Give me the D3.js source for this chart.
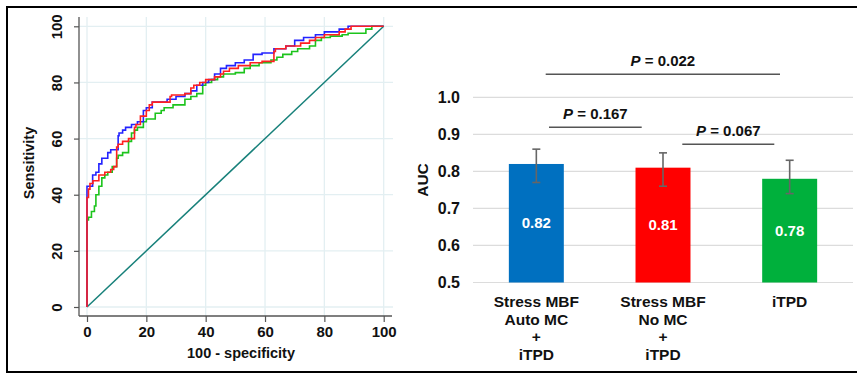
<!DOCTYPE html>
<html>
<head>
<meta charset="utf-8">
<script src="https://cdnjs.cloudflare.com/ajax/libs/d3/7.8.5/d3.min.js"></script>
<style>
html,body{margin:0;padding:0;background:#fff;}
svg{display:block;font-family:"Liberation Sans",Arial,sans-serif;font-weight:bold;}
</style>
</head>
<body>
<svg id="chart" width="857" height="375"></svg>
<script>
// ---------- ROC data (x = 100 - specificity, y = sensitivity) ----------
const rocBlue = [[0,0],[0,38],[0.3,43],[1.9,43],[1.9,44],[3,47],[4,48],[5,51],[7,53],[8,55],[9,56],[10.5,56],[10.8,61],[12,62],[13,63],[15,64],[17,65],[19,66],[20,70],[22,71],[24,73],[27,73],[30,74],[33,75],[35,76],[37,77],[39,79],[41,80],[43,81],[45,83],[47,85],[50,86],[53,87],[56,88],[59,90],[63,90.5],[67,92],[70,93],[73,95],[77,96],[80,97],[85,98],[88,99],[92,100],[100,100]];
const rocRed = [[0,0],[0,38],[0.5,39],[1,42],[2,44],[4,45],[6,47],[8,48],[9,49],[10,50],[10.5,57],[12,58],[14,59],[16,60],[16.5,64],[18,65],[20,68],[21,70],[22,72],[23,73],[28,73],[28.5,75],[33,75.5],[35,76],[36,78],[38,79],[40,80],[43,81],[45,82],[46,83],[48,84],[51,85],[55,86],[59,87],[63,87.5],[63.5,91],[67,92],[72,93],[75,94],[77,95],[80,96],[85,97],[87,98],[89,99],[91,100],[100,100]];
const rocGreen = [[0,0],[0,28],[0.5,31],[1.5,32],[2.5,34],[3,36],[4,40],[5,43],[6,46],[7,47],[8.5,48],[10,50],[10.5,53],[12,54],[14,55],[15,59],[16,62],[17,63],[19,64],[20,66],[23,67],[25,69],[26,70],[29,71],[33,72],[35,74],[37,75],[39,76],[40,79],[42,80],[44,81],[46,82],[50,83],[53,83.5],[55,85],[58,86],[62,87],[64,88],[66,89],[69,90],[71,91],[75,92],[77,93],[79,95],[82,96],[86,96.5],[88,97],[94,97.5],[96,99],[100,100]];
const rocTicks = [0,20,40,60,80,100];

// ---------- Bar data ----------
const barCategories = ["Stress MBF|Auto MC|+|iTPD","Stress MBF|No MC|+|iTPD","iTPD"];
const barValues = [0.82,0.81,0.78];
const barLow = [0.77,0.76,0.74];
const barHigh = [0.86,0.85,0.83];
const barColors = ["#0070c0","#ff0000","#00b03c"];
const aucTicks = [0.5,0.6,0.7,0.8,0.9,1.0];
const pComparisons = [
  {from:0,to:2,label:"0.022",level:0},
  {from:0,to:1,label:"0.167",level:1},
  {from:1,to:2,label:"0.067",level:2}
];

const svg = d3.select("#chart");

// Outer frame
svg.append("line").attr("x1",7).attr("x2",857).attr("y1",7).attr("y2",7).attr("stroke","#000").attr("stroke-width",2);
svg.append("line").attr("x1",7).attr("x2",857).attr("y1",372).attr("y2",372).attr("stroke","#000").attr("stroke-width",2);
svg.append("line").attr("x1",7).attr("x2",7).attr("y1",6).attr("y2",373).attr("stroke","#000").attr("stroke-width",2);

// ---------- ROC panel ----------
const x = d3.scaleLinear().domain([0,100]).range([87,383.7]);
const y = d3.scaleLinear().domain([0,100]).range([307,26.3]);
const g1 = svg.append("g");

// grid
g1.selectAll(".vg").data(rocTicks).join("line")
  .attr("x1",d=>x(d)).attr("x2",d=>x(d)).attr("y1",17).attr("y2",316)
  .attr("stroke","#e3eff2").attr("stroke-width",1.3);
g1.selectAll(".hg").data(rocTicks).join("line")
  .attr("x1",79).attr("x2",393).attr("y1",d=>y(d)).attr("y2",d=>y(d))
  .attr("stroke","#e3eff2").attr("stroke-width",1.3);

// axes
const xAxis = d3.axisBottom(x).tickValues(rocTicks).tickSize(6).tickPadding(4);
const gx = g1.append("g").attr("transform","translate(0,316)").call(xAxis);
gx.select(".domain").attr("d","M79,0H392").attr("stroke","#555").attr("stroke-width",1.3);
gx.selectAll(".tick line").attr("stroke","#555").attr("stroke-width",1.2);
gx.selectAll(".tick text").attr("font-size",15).attr("font-weight","bold").attr("fill","#111")
  .attr("font-family","Liberation Sans, Arial, sans-serif");

const yAxis = d3.axisLeft(y).tickValues(rocTicks).tickSize(5).tickPadding(4);
const gy = g1.append("g").attr("transform","translate(79,0)").call(yAxis);
gy.select(".domain").attr("d","M0,17V316").attr("stroke","#555").attr("stroke-width",1.3);
gy.selectAll(".tick line").attr("stroke","#555").attr("stroke-width",1.2);
gy.selectAll(".tick text").attr("font-size",15).attr("font-weight","bold").attr("fill","#111")
  .attr("font-family","Liberation Sans, Arial, sans-serif")
  .attr("transform","rotate(-90)").attr("x",0).attr("y",-22).attr("dy","0.35em").attr("text-anchor","middle");

g1.append("text").attr("x",241).attr("y",358).attr("text-anchor","middle").attr("font-size",14.5).attr("fill","#111").text("100 - specificity");
g1.append("text").attr("transform","translate(34,163) rotate(-90)").attr("text-anchor","middle").attr("font-size",14.5).attr("fill","#111").text("Sensitivity");

// diagonal
g1.append("line").attr("x1",x(0)).attr("y1",y(0)).attr("x2",x(100)).attr("y2",y(100))
  .attr("stroke","#17807a").attr("stroke-width",1.5);

const stepLine = d3.line().x(d=>x(d[0])).y(d=>y(d[1])).curve(d3.curveStepBefore);
[[rocGreen,"#1cc41c"],[rocBlue,"#2323ff"],[rocRed,"#ff2020"]].forEach(([data,col])=>{
  g1.append("path").datum(data).attr("d",stepLine).attr("fill","none").attr("stroke",col).attr("stroke-width",1.6);
});

// ---------- Bar panel ----------
const xb = d3.scaleBand().domain(d3.range(barValues.length)).range([473,853]).paddingInner(0.566).paddingOuter(0.283);
const yb = d3.scaleLinear().domain([0.5,1.0]).range([282.5,97.3]);
const g2 = svg.append("g");

g2.selectAll(".bg").data(aucTicks).join("line")
  .attr("x1",473).attr("x2",853).attr("y1",d=>yb(d)).attr("y2",d=>yb(d))
  .attr("stroke","#dcdcdc").attr("stroke-width",1.2);
g2.selectAll(".bt").data(aucTicks).join("text")
  .attr("x",460).attr("y",d=>yb(d)).attr("dy","0.35em").attr("text-anchor","end")
  .attr("font-size",16).attr("fill","#111").text(d=>d.toFixed(1));
g2.append("text").attr("transform","translate(428,180) rotate(-90)").attr("text-anchor","middle")
  .attr("font-size",15.5).attr("fill","#111").text("AUC");

g2.selectAll(".bar").data(barValues).join("rect")
  .attr("x",(d,i)=>xb(i)).attr("width",xb.bandwidth())
  .attr("y",d=>yb(d)).attr("height",d=>yb(0.5)-yb(d))
  .attr("fill",(d,i)=>barColors[i]);

// error bars
barValues.forEach((v,i)=>{
  const cx = xb(i)+xb.bandwidth()/2;
  g2.append("line").attr("x1",cx).attr("x2",cx).attr("y1",yb(barLow[i])).attr("y2",yb(barHigh[i])).attr("stroke","#666").attr("stroke-width",1.6);
  [barLow[i],barHigh[i]].forEach(t=>{
    g2.append("line").attr("x1",cx-4).attr("x2",cx+4).attr("y1",yb(t)).attr("y2",yb(t)).attr("stroke","#666").attr("stroke-width",1.6);
  });
});

// value labels
g2.selectAll(".vl").data(barValues).join("text")
  .attr("x",(d,i)=>xb(i)+xb.bandwidth()/2).attr("y",d=>(yb(d)+yb(0.5))/2).attr("dy","0.35em")
  .attr("text-anchor","middle").attr("font-size",15).attr("fill","#fff").text(d=>d.toFixed(2));

// category labels
barCategories.forEach((c,i)=>{
  const t = g2.append("text").attr("x",xb(i)+xb.bandwidth()/2).attr("text-anchor","middle").attr("font-size",15.5).attr("fill","#111");
  c.split("|").forEach((ln,j)=>{
    t.append("tspan").attr("x",xb(i)+xb.bandwidth()/2).attr("y",307+j*17.6).text(ln);
  });
});

// P-value comparisons
const pLineY = [74.3,127.3,144.3];
const pLineX = [[545.7,780],[549,641.7],[682.3,774.3]];
pComparisons.forEach((p,k)=>{
  const [xa,xc] = pLineX[k];
  g2.append("line").attr("x1",xa).attr("x2",xc).attr("y1",pLineY[p.level]).attr("y2",pLineY[p.level])
    .attr("stroke","#555").attr("stroke-width",1.6);
  const t = g2.append("text").attr("x",(xa+xc)/2).attr("y",pLineY[p.level]-14).attr("dy","0.35em")
    .attr("text-anchor","middle").attr("font-size",15).attr("fill","#111");
  t.append("tspan").attr("font-style","italic").text("P");
  t.append("tspan").text(" = "+p.label);
});
</script>
</body>
</html>
